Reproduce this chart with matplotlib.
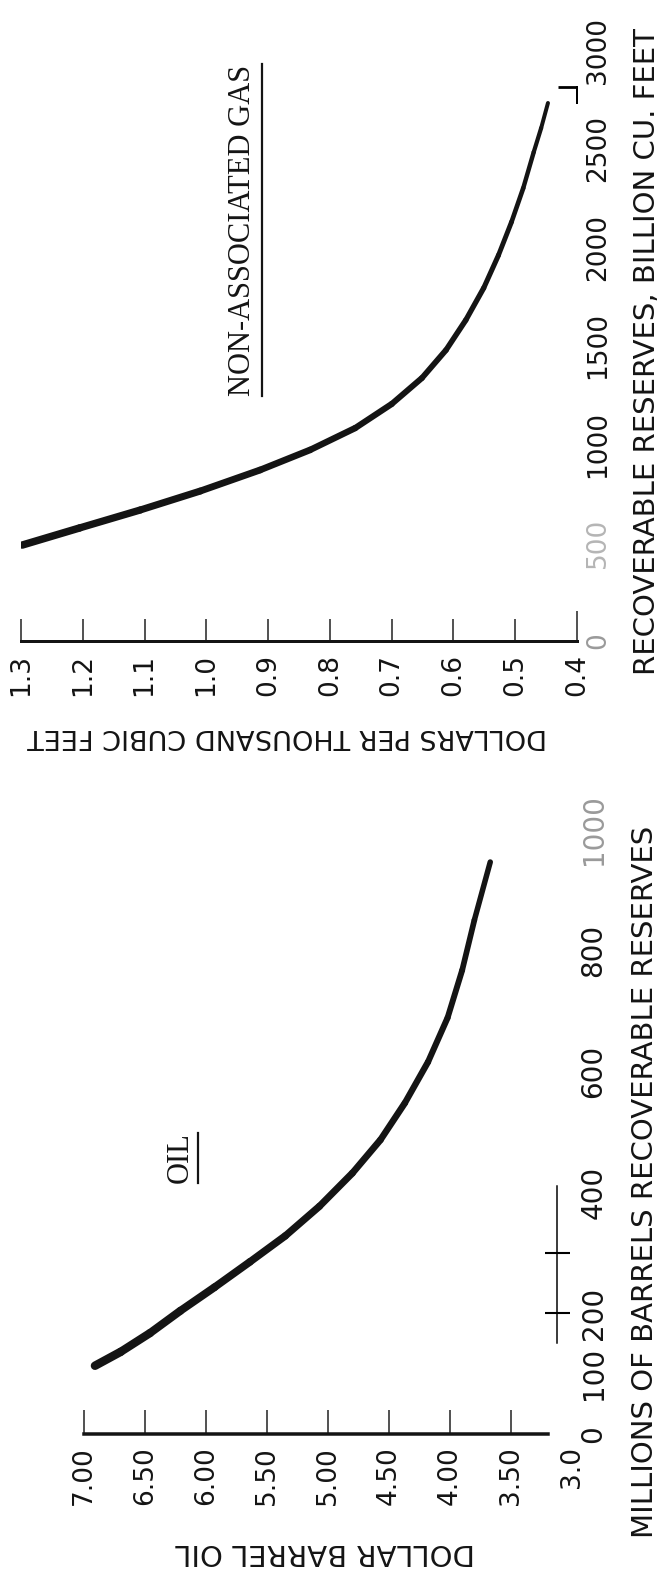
import matplotlib
matplotlib.use("Agg")
import numpy as np
import matplotlib.pyplot as plt
from matplotlib.lines import Line2D
from matplotlib.collections import LineCollection

# ---------------- data ----------------
gas_reserves = [487, 574, 665, 761, 868, 970, 1081, 1203, 1335, 1477, 1629,
                1792, 1959, 2127, 2299, 2482, 2604, 2731]
gas_price = [1.298, 1.205, 1.107, 1.010, 0.913, 0.832, 0.759, 0.700, 0.651, 0.612,
             0.580, 0.551, 0.527, 0.506, 0.487, 0.470, 0.458, 0.447]

oil_reserves = [113, 136, 167, 204, 243, 285, 328, 377, 432, 487, 548, 616,
                689, 768, 851, 947]
oil_price = [6.91, 6.70, 6.46, 6.21, 5.93, 5.64, 5.35, 5.07, 4.80, 4.57, 4.37,
             4.18, 4.02, 3.90, 3.80, 3.67]

gas_price_ticks = [1.3, 1.2, 1.1, 1.0, 0.9, 0.8, 0.7, 0.6, 0.5, 0.4]
gas_price_labels = ["1.3", "1.2", "1.1", "1.0", "0.9", "0.8", "0.7", "0.6", "0.5", "0.4"]
gas_res_ticks = [0, 500, 1000, 1500, 2000, 2500, 3000]
gas_res_labels = ["0", "500", "1000", "1500", "2000", "2500", "3000"]

oil_price_ticks = [7.0, 6.5, 6.0, 5.5, 5.0, 4.5, 4.0, 3.5, 3.0]
oil_price_labels = ["7.00", "6.50", "6.00", "5.50", "5.00", "4.50", "4.00", "3.50", "3.0"]
oil_res_ticks = [0, 100, 200, 400, 600, 800, 1000]
oil_res_labels = ["0", "100", "200", "400", "600", "800", "1000"]

W, H = 662, 1574
fig = plt.figure(figsize=(W / 100, H / 100), dpi=100)
fig.patch.set_facecolor("white")
INK = "#141414"
PX = 0.72  # points per pixel


def rect(x0, x1, ytop, ybot):
    return [x0 / W, 1 - ybot / H, (x1 - x0) / W, (ybot - ytop) / H]


def ftext(x, y, s, **kw):
    return fig.text(x / W, 1 - y / H, s, **kw)


def style_axes(ax):
    for sp in ["top", "left"]:
        ax.spines[sp].set_visible(False)
    ax.set_facecolor("none")
    ax.yaxis.tick_right()
    ax.yaxis.remove_overlapping_locs = False


def tapered(ax, x, y, w0, w1):
    pts = np.column_stack([x, y])
    segs = np.stack([pts[:-1], pts[1:]], axis=1)
    widths = np.linspace(w0, w1, len(segs)) * PX
    lc = LineCollection(segs, linewidths=widths, colors=INK, capstyle="round",
                        joinstyle="round")
    ax.add_collection(lc)


# ---------------- gas panel ----------------
axg = fig.add_axes(rect(21, 577, 50, 641))
style_axes(axg)
tapered(axg, gas_price, gas_reserves, 7.5, 4)
axg.set_xlim(1.3, 0.4)
axg.set_ylim(0, 3000)
axg.spines["bottom"].set_linewidth(3 * PX)
axg.spines["bottom"].set_color(INK)
axg.spines["right"].set_bounds(2730, 2810)
axg.spines["right"].set_linewidth(2 * PX)
axg.set_xticks(gas_price_ticks)
axg.set_xticklabels(gas_price_labels)
axg.tick_params(axis="x", direction="in", length=16, width=1.2, color="#333333",
                labelrotation=90, labelsize=19, pad=9, labelcolor=INK)
axg.xaxis.get_major_ticks()[-1].tick1line.set_markersize(30 * PX)
axg.set_yticks(gas_res_ticks)
axg.set_yticklabels(gas_res_labels)
axg.set_yticks([2810], minor=True)
axg.tick_params(axis="y", which="major", length=0, labelrotation=90,
                labelsize=19, pad=6, labelcolor=INK)
axg.tick_params(axis="y", which="minor", direction="in", length=14, width=2)
for lab in axg.get_yticklabels():
    lab.set_va("center")
axg.get_yticklabels()[0].set_color("#9a9a9a")
axg.get_yticklabels()[1].set_color("#b5b5b5")

ftext(287, 736, "DOLLARS PER THOUSAND CUBIC FEET", rotation=180, ha="center",
      va="center", fontsize=19.5, color=INK)
ftext(647, 352, "RECOVERABLE RESERVES, BILLION CU. FEET", rotation=90, ha="center",
      va="center", fontsize=21, color=INK)
tg = ftext(243, 230, "NON-ASSOCIATED GAS", rotation=90, ha="center", va="center",
           fontsize=22, family="Liberation Serif", color=INK)

# ---------------- oil panel ----------------
axo = fig.add_axes(rect(84, 572, 830, 1434))
style_axes(axo)
tapered(axo, oil_price, oil_reserves, 8.5, 5.5)
axo.set_xlim(7.0, 3.0)
axo.set_ylim(0, 1000)
axo.spines["bottom"].set_linewidth(3.5 * PX)
axo.spines["bottom"].set_color(INK)
axo.spines["bottom"].set_bounds(7.0, 3.2)
axo.spines["right"].set_position(("data", 3.12))
axo.spines["right"].set_bounds(150, 410)
axo.spines["right"].set_linewidth(1.5 * PX)
axo.set_xticks(oil_price_ticks)
axo.set_xticklabels(oil_price_labels)
axo.tick_params(axis="x", direction="in", length=17, width=1.2, color="#333333",
                labelrotation=90, labelsize=19, pad=9, labelcolor=INK)
axo.xaxis.get_major_ticks()[-1].tick1line.set_visible(False)
axo.set_yticks(oil_res_ticks)
axo.set_yticklabels(oil_res_labels)
axo.set_yticks([200, 300], minor=True)
axo.tick_params(axis="y", which="major", length=0, labelrotation=90,
                labelsize=20, pad=16, labelcolor=INK)
axo.tick_params(axis="y", which="minor", direction="inout", length=18, width=1.5)
for lab in axo.get_yticklabels():
    lab.set_va("center")
axo.get_yticklabels()[-1].set_color("#9a9a9a")

ftext(325, 1552, "DOLLAR BARREL OIL", rotation=180, ha="center", va="center",
      fontsize=21, color=INK)
ftext(645, 1182, "MILLIONS OF BARRELS RECOVERABLE RESERVES", rotation=90,
      ha="center", va="center", fontsize=21, color=INK)
to = ftext(180, 1158, "OIL", rotation=90, ha="center", va="center",
           fontsize=22, family="Liberation Serif", color=INK)

# underlines for the two panel titles (on the baseline side of the rotated text)
fig.canvas.draw()
r = fig.canvas.get_renderer()
for t in (tg, to):
    bb = t.get_window_extent(renderer=r)
    xline = (bb.x1 + 4) / W
    fig.add_artist(Line2D([xline, xline], [bb.y0 / H, bb.y1 / H],
                          transform=fig.transFigure, color=INK, lw=1.6))

fig.savefig("out.png", dpi=100, facecolor="white")
